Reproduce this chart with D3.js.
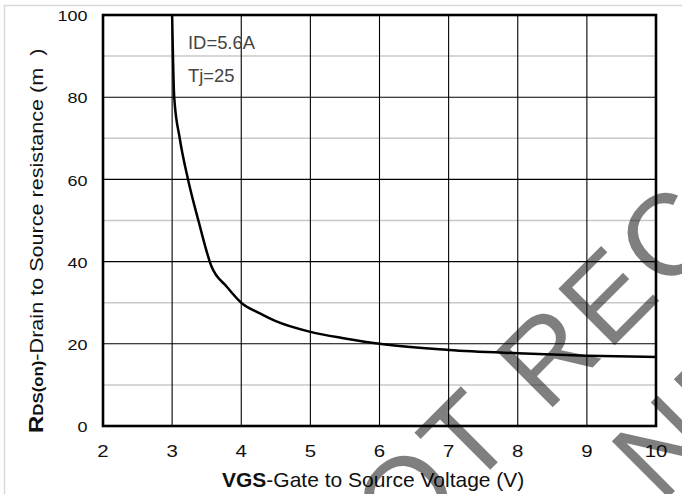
<!DOCTYPE html>
<html>
<head>
<meta charset="utf-8">
<script src="https://cdn.jsdelivr.net/npm/d3@7"></script>
<style>
  html, body { margin: 0; padding: 0; background: #fff; }
  svg { display: block; }
  text { font-family: "Liberation Sans", Arial, sans-serif; }
</style>
</head>
<body>
<svg id="chart" width="682" height="494"></svg>
<script>
// ---- data ----
const vgs = [3.0, 3.03, 3.11, 3.23, 3.38, 3.57, 3.79, 4.0, 4.27, 4.5, 5.0, 5.5, 6.0, 7.0, 8.0, 9.0, 10.0];
const rds = [100, 80, 70, 60, 50, 38.8, 33.9, 30.0, 27.4, 25.5, 22.9, 21.3, 20.0, 18.5, 17.7, 17.1, 16.8];
const xTicks = [2, 3, 4, 5, 6, 7, 8, 9, 10];
const yMajor = [0, 20, 40, 60, 80, 100];
const yMinor = [10, 30, 50, 70, 90];
const notes = ["ID=5.6A", "Tj=25"];
const watermark = ["NOT RECOMMENDED", "NE"];

// ---- layout ----
const svg = d3.select("#chart");
const L = 103, R = 656, T = 15, B = 426;
const x = d3.scaleLinear().domain([2, 10]).range([L, R]);
const y = d3.scaleLinear().domain([0, 100]).range([B, T]);

svg.append("rect").attr("width", 682).attr("height", 494).attr("fill", "#fff");
// outer light frame
svg.append("rect").attr("x", 4.5).attr("y", 5.5).attr("width", 800).attr("height", 600)
  .attr("fill", "none").attr("stroke", "#d9d9d9").attr("stroke-width", 1.5);

// minor gridlines
svg.append("g").selectAll("line").data(yMinor).join("line")
  .attr("x1", L).attr("x2", R).attr("y1", d => y(d)).attr("y2", d => y(d))
  .attr("stroke", "#c8c8c8").attr("stroke-width", 1.5);
// major horizontal gridlines
svg.append("g").selectAll("line").data(yMajor.slice(1, -1)).join("line")
  .attr("x1", L).attr("x2", R).attr("y1", d => y(d)).attr("y2", d => y(d))
  .attr("stroke", "#000").attr("stroke-width", 1.1);
// vertical gridlines
svg.append("g").selectAll("line").data(xTicks.slice(1, -1)).join("line")
  .attr("y1", T).attr("y2", B).attr("x1", d => x(d)).attr("x2", d => x(d))
  .attr("stroke", "#000").attr("stroke-width", 1.1);

// curve
const pts = vgs.map((v, i) => [v, rds[i]]);
svg.append("path").datum(pts)
  .attr("d", d3.line().x(d => x(d[0])).y(d => y(d[1])).curve(d3.curveMonotoneX))
  .attr("fill", "none").attr("stroke", "#000").attr("stroke-width", 2.5);

// plot border
svg.append("rect").attr("x", L).attr("y", T).attr("width", R - L).attr("height", B - T)
  .attr("fill", "none").attr("stroke", "#000").attr("stroke-width", 2.6);

// y tick labels
svg.append("g").selectAll("text").data(yMajor).join("text")
  .attr("transform", d => `translate(87.5,${y(d) + 6.2}) scale(1.2,1)`)
  .attr("text-anchor", "end").attr("font-size", 15).attr("fill", "#111")
  .text(d => d);
// x tick labels
svg.append("g").selectAll("text").data(xTicks).join("text")
  .attr("transform", d => `translate(${x(d)},456.5) scale(1.2,1)`)
  .attr("text-anchor", "middle").attr("font-size", 17).attr("fill", "#111")
  .text(d => d);

// annotations
svg.append("g").selectAll("text").data(notes).join("text")
  .attr("x", 188).attr("y", (d, i) => 49 + i * 32.7)
  .attr("font-size", 18.4).attr("fill", "#444").text(d => d);

// x axis title
const xt = svg.append("text").attr("x", 222).attr("y", 487).attr("font-size", 21).attr("fill", "#111");
xt.append("tspan").attr("font-weight", "bold").text("VGS");
xt.append("tspan").text("-Gate to Source Voltage (V)");

// y axis title
const yt = svg.append("text").attr("transform", "translate(43,433) rotate(-90) scale(1.2,1)")
  .attr("font-size", 18).attr("fill", "#111");
yt.append("tspan").attr("font-weight", "bold").attr("font-size", 20).text("R");
yt.append("tspan").attr("font-weight", "bold").attr("font-size", 14).text("DS(on)");
yt.append("tspan").text("-Drain to Source resistance (m\u00a0\u00a0)");

// watermark
const wm = svg.append("g").attr("fill", "#000").attr("fill-opacity", 0.5)
  .style("font-size", "116px");
const g1 = wm.append("g").attr("transform", "translate(494,466) rotate(-45)");
const t1 = g1.append("text").attr("letter-spacing", 4).text(watermark[0]);
const tx = t1.node().getStartPositionOfChar(2).x;
t1.attr("x", -(tx + 0.305 * 116));
const g2 = wm.append("g").attr("transform", "translate(672,494) rotate(-45)");
g2.append("text").attr("x", -15).attr("letter-spacing", 4).text(watermark[1]);
</script>
</body>
</html>
